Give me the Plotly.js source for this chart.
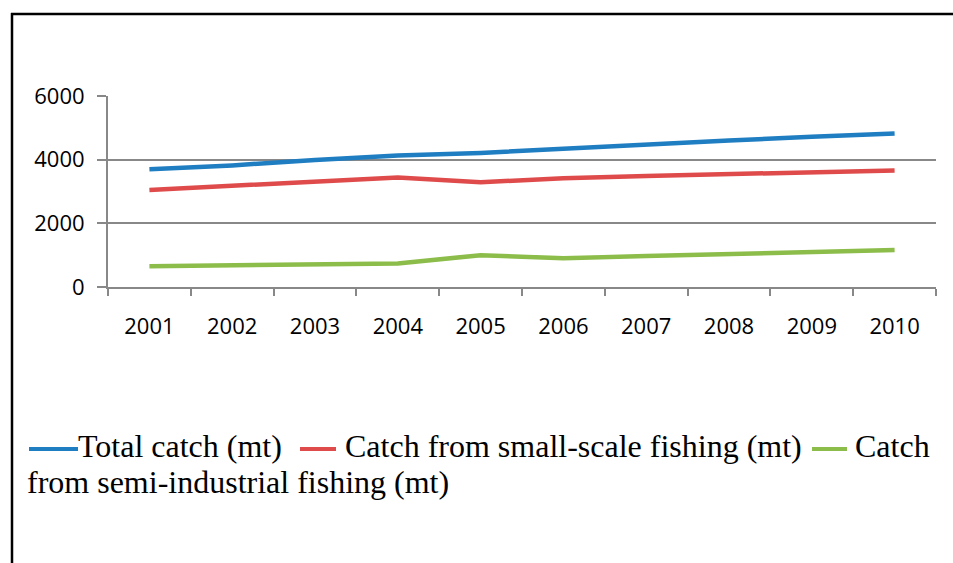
<!DOCTYPE html>
<html>
<head>
<meta charset="utf-8">
<script src="https://cdn.plot.ly/plotly-3.0.1.min.js"></script>
<style>
html,body{margin:0;padding:0;background:#fff;}
#chart{width:953px;height:563px;}
</style>
</head>
<body>
<div id="chart"></div>
<script>
// ---- data ----
const years = ["2001","2002","2003","2004","2005","2006","2007","2008","2009","2010"];
const totalCatch = [3700, 3820, 3990, 4130, 4210, 4350, 4480, 4600, 4720, 4820];
const smallScale = [3050, 3180, 3320, 3440, 3290, 3420, 3490, 3550, 3610, 3660];
const semiIndustrial = [650, 680, 720, 740, 1000, 900, 970, 1030, 1090, 1160];
const seriesNames = ["Total catch (mt)", "Catch from small-scale fishing (mt)", "Catch from semi-industrial fishing (mt)"];
const yTicks = [0, 2000, 4000, 6000];

// ---- styling ----
const colors = ["#1f7dc2", "#df4b4b", "#8cbd4a"];
const W = 953, H = 563;
const M = {l: 108, r: 17, t: 96, b: 276};
const plotW = W - M.l - M.r, plotH = H - M.t - M.b;
const px = x => (x - M.l) / plotW;
const py = y => (H - M.b - y) / plotH;
const gridCol = "#888888";
const serif = "Liberation Serif, Times New Roman, serif";
const sans = "Open Sans, sans-serif";

const traces = [totalCatch, smallScale, semiIndustrial].map((vals, i) => ({
  type: "scatter", mode: "lines", x: years, y: vals, name: seriesNames[i],
  line: {color: colors[i], width: 4.5}, showlegend: false
}));

const legendLine = (x0, x1, y, c) => ({
  type: "line", xref: "paper", yref: "paper",
  x0: px(x0), x1: px(x1), y0: py(y), y1: py(y),
  line: {color: c, width: 4}
});
const legendText = (txt, x, y) => ({
  text: txt, xref: "paper", yref: "paper", x: px(x), y: py(y),
  xanchor: "left", yanchor: "middle", showarrow: false,
  font: {family: serif, size: 32, color: "#000"}
});

const layout = {
  width: W, height: H,
  margin: M,
  paper_bgcolor: "#fff", plot_bgcolor: "#fff",
  font: {family: sans, color: "#000"},
  xaxis: {
    type: "category", range: [-0.5, years.length - 0.5], tickson: "boundaries",
    ticks: "outside", ticklen: 7, tickwidth: 2, tickcolor: gridCol,
    showline: true, linecolor: gridCol, linewidth: 2,
    showgrid: false, zeroline: false,
    tickfont: {family: sans, size: 22, color: "#000"},
    ticklabelstandoff: 19
  },
  yaxis: {
    range: [0, 6000], tickvals: yTicks, ticktext: yTicks.map(String),
    ticks: "outside", ticklen: 9, tickwidth: 2, tickcolor: gridCol,
    showline: true, linecolor: gridCol, linewidth: 2,
    showgrid: true, gridcolor: gridCol, gridwidth: 2, zeroline: false,
    tickfont: {family: sans, size: 22, color: "#000"},
    ticklabelstandoff: 8
  },
  shapes: [
    {type: "line", xref: "paper", yref: "paper", x0: px(12), x1: px(12), y0: py(13), y1: py(570), line: {color: "#000", width: 2.5}},
    {type: "line", xref: "paper", yref: "paper", x0: px(11), x1: px(960), y0: py(14), y1: py(14), line: {color: "#000", width: 2.5}},
    legendLine(29, 78, 449, colors[0]),
    legendLine(300, 336, 449, colors[1]),
    legendLine(812, 847, 449, colors[2])
  ],
  annotations: [
    legendText(seriesNames[0], 76, 446),
    legendText("Catch from small-scale fishing (mt)", 343, 446),
    legendText("Catch", 853, 446),
    legendText("from semi-industrial fishing (mt)", 25, 482)
  ]
};

Plotly.newPlot("chart", traces, layout, {staticPlot: true, displayModeBar: false});
</script>
</body>
</html>
